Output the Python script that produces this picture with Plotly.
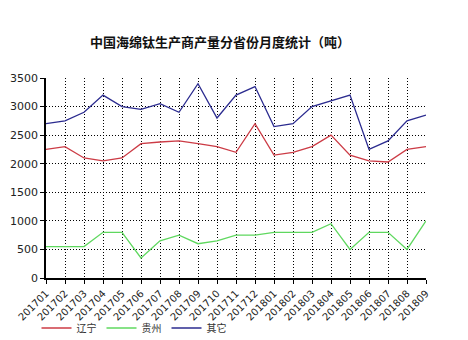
import plotly.graph_objects as go

months = ["201701","201702","201703","201704","201705","201706","201707","201708","201709",
          "201710","201711","201712","201801","201802","201803","201804","201805","201806",
          "201807","201808","201809"]
liaoning = [2250,2300,2100,2050,2100,2350,2380,2400,2350,2300,2200,2700,2150,2200,2300,2500,2150,2050,2030,2250,2300]
guizhou = [550,550,550,800,800,350,650,750,600,650,750,750,800,800,800,950,500,800,800,500,1000]
other = [2700,2750,2900,3200,3000,2950,3050,2900,3400,2800,3200,3350,2650,2700,3000,3100,3200,2250,2400,2750,2850]

names = ["辽宁", "贵州", "其它"]
colors = ["#cc3b45", "#5fd85f", "#2b2b8f"]

fig = go.Figure()
for name, vals, c in zip(names, [liaoning, guizhou, other], colors):
    fig.add_trace(go.Scatter(x=months, y=vals, mode="lines", name=name,
                             line=dict(color=c, width=1.3)))

font = "Noto Sans CJK SC"
fig.update_layout(
    width=468, height=340,
    margin=dict(l=46, r=42, t=78, b=62),
    paper_bgcolor="white", plot_bgcolor="white",
    title=dict(text="<b>中国海绵钛生产商产量分省份月度统计（吨）</b>", x=220/468, xanchor="center",
               y=1 - 42/340, yanchor="middle",
               font=dict(family=font, size=13, color="#111")),
    font=dict(family=font, color="#222"),
    showlegend=True,
    legend=dict(orientation="h", x=-0.025, xanchor="left", yref="container",
                y=1 - 328/340, yanchor="middle",
                font=dict(size=10, color="#333"), entrywidth=20, entrywidthmode="pixels",
                itemwidth=30, bgcolor="rgba(0,0,0,0)"),
)
fig.update_xaxes(type="category", range=[0, len(months)-1], tickangle=-45,
                 tickfont=dict(size=10, color="#222", family="DejaVu Sans"),
                 showline=True, linecolor="black", linewidth=1.5,
                 ticks="outside", ticklen=4, tickcolor="black",
                 showgrid=True, gridcolor="black", griddash="1px,2px", gridwidth=1,
                 automargin=False, mirror=False)
fig.update_yaxes(range=[0, 3500], dtick=500,
                 tickfont=dict(size=11, color="#222", family="DejaVu Sans"),
                 showline=True, linecolor="black", linewidth=1.5,
                 ticks="outside", ticklen=4, tickcolor="black",
                 showgrid=True, gridcolor="black", griddash="1px,2px", gridwidth=1,
                 zeroline=False, automargin=False)
fig.write_html("out.html")
